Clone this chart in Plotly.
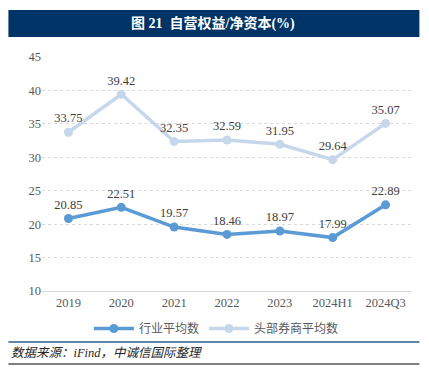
import plotly.graph_objects as go

categories = ["2019", "2020", "2021", "2022", "2023", "2024H1", "2024Q3"]
industry_avg = [20.85, 22.51, 19.57, 18.46, 18.97, 17.99, 22.89]
top_broker_avg = [33.75, 39.42, 32.35, 32.59, 31.95, 29.64, 35.07]
y_ticks = [10, 15, 20, 25, 30, 35, 40, 45]

serif = "Times New Roman, Liberation Serif, Noto Sans CJK SC, serif"

# page body has an 8px margin; figure is sized to fit the window
W, H = 421, 377
ML, MR, MT, MB = 33.6, 17.4, 49, 94
PW, PH = W - ML - MR, H - MT - MB


def px(sx):  # screen x -> paper x
    return (sx - 8 - ML) / PW


def py(sy):  # screen y -> paper y
    return (H - MB - (sy - 8)) / PH


fig = go.Figure()
fig.add_trace(go.Scatter(
    x=categories, y=industry_avg, name="行业平均数",
    mode="lines+markers+text",
    line=dict(color="#5B9BD5", width=3.5),
    marker=dict(size=9, color="#5B9BD5"),
    text=[f"{v:.2f}" for v in industry_avg], textposition="top center",
    textfont=dict(family=serif, size=12.5, color="#404040"),
    cliponaxis=False,
))
fig.add_trace(go.Scatter(
    x=categories, y=top_broker_avg, name="头部券商平均数",
    mode="lines+markers+text",
    line=dict(color="#C6D7EC", width=3.5),
    marker=dict(size=9, color="#C6D7EC"),
    text=[f"{v:.2f}" for v in top_broker_avg], textposition="top center",
    textfont=dict(family=serif, size=12.5, color="#404040"),
    cliponaxis=False,
))

fig.update_layout(
    width=W, height=H,
    paper_bgcolor="white", plot_bgcolor="white",
    margin=dict(l=ML, r=MR, t=MT, b=MB, pad=0),
    showlegend=True,
    legend=dict(orientation="h", x=px(216), xanchor="center", y=py(314), yanchor="top",
                bgcolor="rgba(0,0,0,0)",
                font=dict(family="Noto Sans CJK SC", size=12, color="#595959"),
                itemwidth=40),
    xaxis=dict(type="category", range=[-0.5, 6.5], showgrid=False,
               showline=True, linecolor="#D9D9D9", linewidth=1,
               ticks="", tickfont=dict(family=serif, size=12.5, color="#595959")),
    yaxis=dict(range=[10, 45], tickvals=y_ticks, showgrid=True,
               gridcolor="#D9D9D9", griddash="dot", gridwidth=1,
               zeroline=False, showline=False, ticks="",
               tickfont=dict(family=serif, size=12.5, color="#595959")),
    shapes=[
        dict(type="rect", xref="paper", yref="paper", x0=px(8), x1=px(419),
             y0=py(37), y1=py(10),
             fillcolor="#003366", line=dict(width=0), layer="below"),
        dict(type="line", xref="paper", yref="paper", x0=px(8), x1=px(419),
             y0=py(342), y1=py(342),
             line=dict(color="#2E5C8A", width=1.5)),
        dict(type="line", xref="paper", yref="paper", x0=px(8), x1=px(419),
             y0=py(364), y1=py(364),
             line=dict(color="#555555", width=1.5)),
    ],
    annotations=[
        dict(text="<b>图 21  自营权益/净资本(%)</b>", xref="paper", yref="paper",
             x=px(213), y=py(23.5), xanchor="center", yanchor="middle",
             showarrow=False, font=dict(family=serif, size=14, color="white")),
        dict(text="<i>数据来源：iFind，中诚信国际整理</i>", xref="paper", yref="paper",
             x=px(9), y=py(353), xanchor="left", yanchor="middle",
             showarrow=False, font=dict(family=serif, size=12.5, color="#262626")),
    ],
)

fig.write_html("out.html")
